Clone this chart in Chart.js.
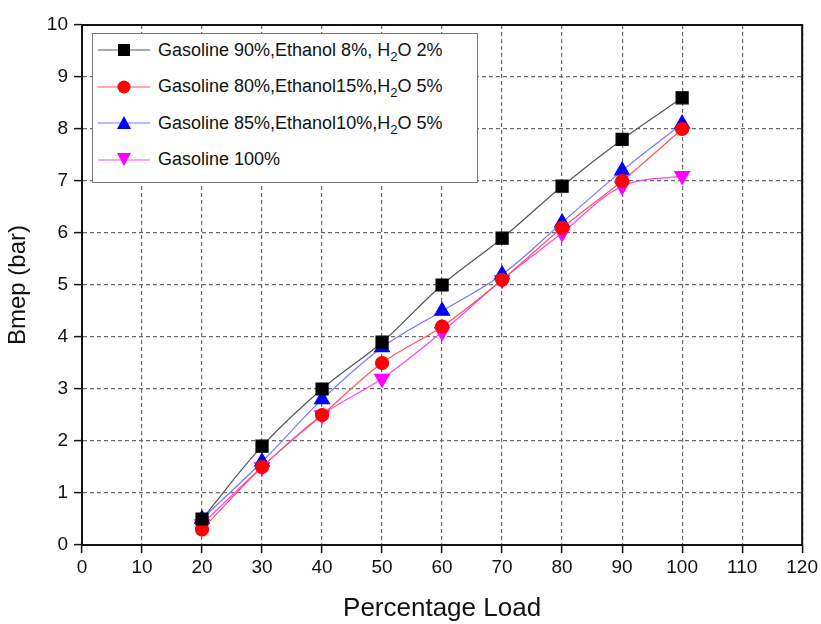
<!DOCTYPE html>
<html lang="en">
<head>
  <meta charset="UTF-8">
  <title>Bmep vs Percentage Load</title>
  <script src="https://cdn.jsdelivr.net/npm/chart.js"></script>
  <style>
    * { margin: 0; padding: 0; box-sizing: border-box; }
    body { background: #fff; font-family: 'Liberation Sans', Arial, sans-serif; }
    .wrap { position: relative; width: 821px; height: 624px; }
    .legend {
      position: absolute;
      left: 92px;
      top: 33px;
      width: 386px;
      height: 150px;
      border: 1.5px solid #777;
      background: #fff;
    }
    .row {
      display: flex;
      align-items: center;
      height: 36.5px;
      font-size: 18px;
      color: #111;
    }
    .row:first-child { margin-top: -2px; }
    .row svg { margin-left: 5px; margin-right: 8px; flex: none; }
    sub { font-size: 13px; vertical-align: -5px; line-height: 0; }
  </style>
</head>
<body>
  <div class="wrap">
    <canvas id="chart" width="821" height="624"></canvas>
    <div class="legend" id="legend"></div>
  </div>

  <script>
    const loads = [20, 30, 40, 50, 60, 70, 80, 90, 100];
    const xTicks = [0, 10, 20, 30, 40, 50, 60, 70, 80, 90, 100, 110, 120];
    const yTicks = [0, 1, 2, 3, 4, 5, 6, 7, 8, 9, 10];

    const blend90 = [0.5, 1.9, 3.0, 3.9, 5.0, 5.9, 6.9, 7.8, 8.6];
    const blend80 = [0.3, 1.5, 2.5, 3.5, 4.2, 5.1, 6.1, 7.0, 8.0];
    const blend85 = [0.5, 1.6, 2.8, 3.8, 4.5, 5.2, 6.2, 7.2, 8.1];
    const gasoline = [0.4, 1.5, 2.5, 3.2, 4.1, 5.1, 6.0, 6.9, 7.1];

    const labels = [
      'Gasoline 90%,Ethanol 8%, H<sub>2</sub>O 2%',
      'Gasoline 80%,Ethanol15%,H<sub>2</sub>O 5%',
      'Gasoline 85%,Ethanol10%,H<sub>2</sub>O 5%',
      'Gasoline 100%'
    ];

    const series = [
      { data: blend90, marker: '#000000', line: '#555555', style: 'rect', radius: 8.5, rot: 0 },
      { data: blend80, marker: '#ff0000', line: '#ff5555', style: 'circle', radius: 6.5, rot: 0 },
      { data: blend85, marker: '#0000ff', line: '#7777ff', style: 'triangle', radius: 8.5, rot: 0 },
      { data: gasoline, marker: '#ff00ff', line: '#ff44ff', style: 'triangle', radius: 8.5, rot: 180 }
    ];

    const datasets = series.map((s, i) => ({
      label: labels[i].replace(/<[^>]+>/g, ''),
      data: loads.map((x, j) => ({ x, y: s.data[j] })),
      borderColor: s.line,
      borderWidth: 1.2,
      backgroundColor: s.marker,
      pointBackgroundColor: s.marker,
      pointBorderColor: s.marker,
      pointStyle: s.style,
      pointRadius: s.radius,
      pointRotation: s.rot,
      tension: 0.35,
      fill: false
    }));

    // box round the plot area
    const frame = {
      id: 'frame',
      afterDraw(chart) {
        const { ctx, chartArea: a } = chart;
        ctx.save();
        ctx.strokeStyle = '#111';
        ctx.lineWidth = 2;
        ctx.strokeRect(a.left, a.top, a.right - a.left, a.bottom - a.top);
        ctx.restore();
      }
    };

    const tickFont = { family: "'Liberation Sans', Arial, sans-serif", size: 19 };

    new Chart(document.getElementById('chart'), {
      type: 'line',
      data: { datasets },
      options: {
        responsive: false,
        animation: false,
        layout: { padding: { left: 0, top: 25, right: 17, bottom: 0 } },
        plugins: { legend: { display: false }, tooltip: { enabled: false } },
        scales: {
          x: {
            type: 'linear',
            min: 0,
            max: 120,
            afterBuildTicks: s => { s.ticks = xTicks.map(v => ({ value: v })); },
            afterFit: s => { s.height = 79; },
            ticks: { color: '#111', font: tickFont, padding: 3, maxRotation: 0 },
            grid: { color: '#6a6a6a', lineWidth: 1.2, tickLength: 8, tickColor: '#111', tickWidth: 1.5, tickBorderDash: [] },
            border: { color: '#111', width: 2, dash: [4, 3] },
            title: {
              display: true, text: 'Percentage Load', color: '#111',
              font: { family: "'Liberation Sans', Arial, sans-serif", size: 26 },
              padding: { top: 4, bottom: 0 }
            }
          },
          y: {
            min: 0,
            max: 10,
            afterBuildTicks: s => { s.ticks = yTicks.map(v => ({ value: v })); },
            afterFit: s => { s.width = 82; },
            ticks: { color: '#111', font: tickFont, padding: 6 },
            grid: { color: '#6a6a6a', lineWidth: 1.2, tickLength: 8, tickColor: '#111', tickWidth: 1.5, tickBorderDash: [] },
            border: { color: '#111', width: 2, dash: [4, 3] },
            title: {
              display: true, text: 'Bmep (bar)', color: '#111',
              font: { family: "'Liberation Sans', Arial, sans-serif", size: 24 },
              padding: { top: 4, bottom: 0 }
            }
          }
        }
      },
      plugins: [frame]
    });

    // legend with subscripts
    function markerSvg(s) {
      let shape;
      if (s.style === 'rect') shape = `<rect x="20" y="4" width="12" height="12" fill="${s.marker}"/>`;
      else if (s.style === 'circle') shape = `<circle cx="26" cy="10" r="6.5" fill="${s.marker}"/>`;
      else if (s.rot === 180) shape = `<polygon points="19,3 33,3 26,16" fill="${s.marker}"/>`;
      else shape = `<polygon points="19,16 33,16 26,3" fill="${s.marker}"/>`;
      return `<svg width="52" height="20"><line x1="0" y1="10" x2="52" y2="10" stroke="${s.line}" stroke-width="1.2"/>${shape}</svg>`;
    }
    document.getElementById('legend').innerHTML = series
      .map((s, i) => `<div class="row">${markerSvg(s)}<span>${labels[i]}</span></div>`)
      .join('');
  </script>
</body>
</html>
